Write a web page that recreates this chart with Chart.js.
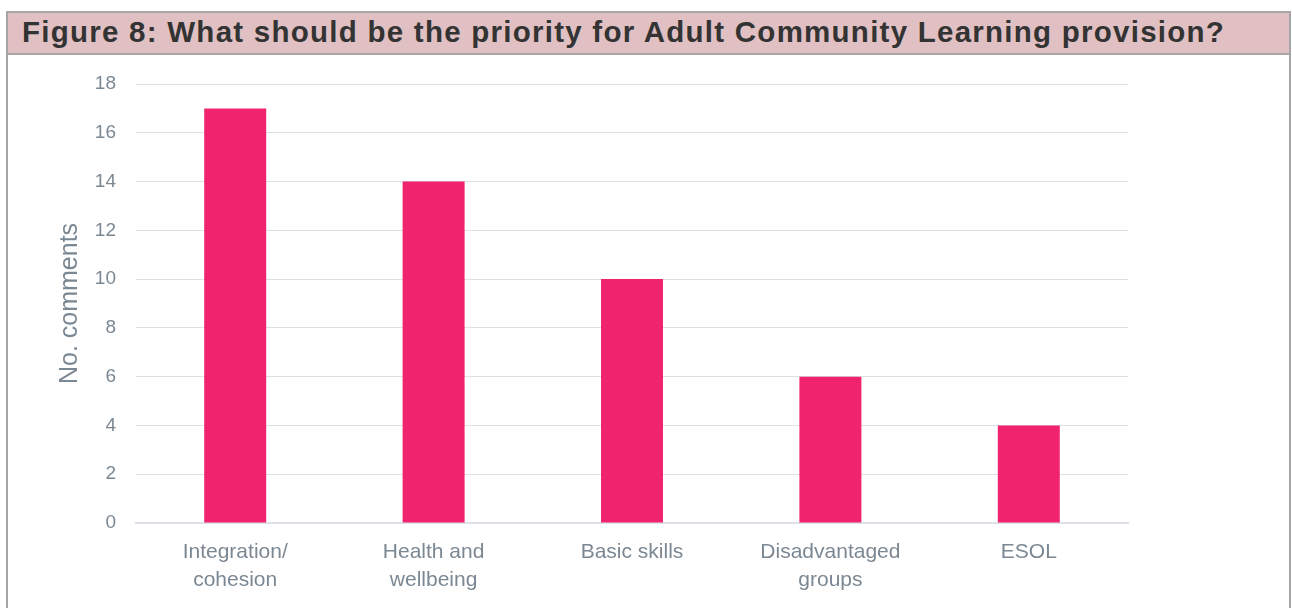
<!DOCTYPE html>
<html>
<head>
<meta charset="utf-8">
<script src="https://cdn.jsdelivr.net/npm/chart.js@4"></script>
<style>
  html, body { margin: 0; padding: 0; background: #fff; }
  body { width: 1292px; height: 608px; position: relative; overflow: hidden; }
  #frame {
    position: absolute; left: 6px; top: 11px; width: 1285px; height: 610px;
    border: 2px solid #a6a6a6; box-sizing: border-box;
  }
  #title {
    position: absolute; left: 8px; top: 13px; width: 1281px; height: 42px;
    background: #e0c0c2; border-bottom: 2px solid #a6a6a6;
    font-family: "Liberation Sans", Arial, sans-serif; font-weight: bold;
    font-size: 29.5px; letter-spacing: 1.25px; color: #333333; line-height: 38px;
    padding-left: 14px; box-sizing: border-box; white-space: nowrap;
  }
  #chart { position: absolute; left: 0; top: 0; }
</style>
</head>
<body>
<div id="frame"></div>
<div id="title">Figure 8: What should be the priority for Adult Community Learning provision?</div>
<canvas id="chart" width="1292" height="608"></canvas>
<script>
const categories = [
  ["Integration/", "cohesion"],
  ["Health and", "wellbeing"],
  "Basic skills",
  ["Disadvantaged", "groups"],
  "ESOL",
];
const comments = [17, 14, 10, 6, 4];
const yTicks = [0, 2, 4, 6, 8, 10, 12, 14, 16, 18];

const labelGrey = "#7b8893";
const gridGrey = "#dde1e6";
const barPink = "#f0246e";

const chartCanvas = document.querySelector("#chart");

const priorityChart = new Chart(chartCanvas, {
  type: "bar",
  data: {
    labels: categories,
    datasets: [
      {
        label: "No. comments",
        data: comments,
        backgroundColor: barPink,
        barPercentage: 0.3125,
        categoryPercentage: 1,
      },
    ],
  },
  options: {
    responsive: false,
    animation: false,
    layout: { padding: { top: 84, right: 164, left: 0, bottom: 0 } },
    plugins: {
      legend: { display: false },
      tooltip: { enabled: false },
    },
    scales: {
      x: {
        afterFit: (scale) => { scale.height = 85; },
        grid: { display: false, drawTicks: false },
        border: { color: gridGrey, width: 2 },
        ticks: {
          color: labelGrey,
          padding: 16,
          font: { family: "Liberation Sans", size: 21, lineHeight: 1.3 },
        },
      },
      y: {
        min: 0,
        max: 18,
        afterFit: (scale) => { scale.width = 136; },
        afterBuildTicks: (scale) => {
          scale.ticks = yTicks.map((v) => ({ value: v }));
        },
        grid: { color: gridGrey, lineWidth: 1, drawTicks: false },
        border: { display: false },
        ticks: {
          color: labelGrey,
          padding: 20,
          font: { family: "Liberation Sans", size: 19 },
        },
        title: {
          display: true,
          text: "No. comments",
          color: labelGrey,
          padding: { top: 55, bottom: 0 },
          font: { family: "Liberation Sans", size: 25 },
        },
      },
    },
  },
});
</script>
</body>
</html>
